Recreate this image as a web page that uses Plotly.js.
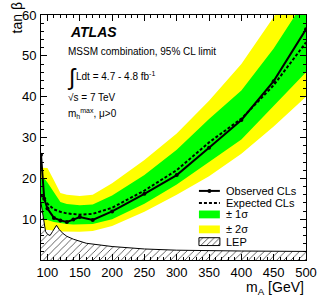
<!DOCTYPE html>
<html><head><meta charset="utf-8">
<script src="https://cdn.plot.ly/plotly-3.0.1.min.js"></script>
<style>html,body{margin:0;padding:0;background:#fff}#c{width:328px;height:301px}</style>
</head><body><div id="c"></div>
<script>
// data (m_A in GeV, tan beta)
const massObs = [90, 95, 100, 110, 120, 130, 140, 150, 170, 200, 250, 300, 350, 400, 450, 500];
const tbObserved = [25.8, 15, 12.6, 10.3, 9.7, 9.3, 9.9, 10.5, 9.8, 11.9, 16.2, 20.8, 27.5, 34.3, 43.8, 56.5];
const tbExpected = [16, 15, 13.8, 12.4, 11.8, 11.4, 11.2, 11.1, 11.3, 12.8, 17, 22, 28.8, 34.6, 42.8, 53.3];
const tbPlus1 = [20, 20, 19, 16.5, 14.2, 13.7, 13.5, 13.4, 13.6, 15.8, 20.8, 27, 34.5, 41.5, 51.8, 64];
const tbMinus1 = [10.2, 10, 9.8, 9.3, 9.0, 8.8, 8.7, 8.7, 8.8, 10, 13.8, 18.5, 24, 29.5, 37.7, 46];
const tbPlus2 = [22.6, 22.6, 22.5, 19.5, 16.4, 16, 15.8, 15.7, 16, 18.8, 24.5, 31, 39, 48, 59.5, 71];
const tbMinus2 = [7.5, 7.5, 7.4, 7.2, 7.0, 6.9, 6.9, 6.9, 7.1, 8.3, 11.8, 16, 20.5, 26, 32.7, 40];
const massLEP = [90, 93, 97, 100, 104, 108, 114, 118, 124, 130, 140, 160, 200, 250, 300, 400, 500];
const tbLEP = [14, 10.5, 7, 6.3, 6.0, 7, 8.5, 7.5, 6.5, 5.8, 5.1, 4.1, 3.3, 2.7, 2.4, 2.2, 2.1];
const xTicks = [100, 150, 200, 250, 300, 350, 400, 450, 500];
const yTicks = [10, 20, 30, 40, 50, 60];
const legendLabels = ["Observed CLs", "Expected CLs", "± 1σ", "± 2σ", "LEP"];

const band = (lo, hi, color) => ({
  x: massObs.concat(massObs.slice().reverse()),
  y: hi.concat(lo.slice().reverse()),
  type: 'scatter', mode: 'lines', fill: 'toself', fillcolor: color,
  line: {width: 0}, hoverinfo: 'skip', showlegend: false
});

const traces = [
  band(tbMinus2, tbPlus2, '#ffff00'),
  band(tbMinus1, tbPlus1, '#00ff00'),
  {x: massLEP, y: tbLEP, type: 'scatter', mode: 'lines', fill: 'tozeroy',
   fillcolor: 'rgba(255,255,255,1)',
   fillpattern: {shape: '/', size: 5, solidity: 0.15, fgcolor: '#333', bgcolor: '#fff'},
   line: {color: '#000', width: 1}, showlegend: false},
  {x: massObs, y: tbExpected, type: 'scatter', mode: 'lines',
   line: {color: '#000', width: 2, dash: '3px,2px'}, showlegend: false},
  {x: massObs, y: tbObserved, type: 'scatter', mode: 'lines+markers',
   line: {color: '#000', width: 2}, marker: {color: '#000', size: 4}, showlegend: false}
];

// legend samples on an overlay axis (x2/y2 : 0..1 range = plot area fractions)
const LX0 = 0.596, LX1 = 0.675;
const rowY = [0.282, 0.233, 0.186, 0.125, 0.075];
const boxH = 0.032;
const box = (i) => ({x: [LX0, LX1, LX1, LX0, LX0],
  y: [rowY[i] - boxH/2, rowY[i] - boxH/2, rowY[i] + boxH/2, rowY[i] + boxH/2, rowY[i] - boxH/2]});
traces.push(
  {x: [LX0, LX1], y: [rowY[0], rowY[0]], xaxis: 'x2', yaxis: 'y2', mode: 'lines', type: 'scatter',
   line: {color: '#000', width: 2}, showlegend: false, hoverinfo: 'skip'},
  {x: [(LX0 + LX1) / 2], y: [rowY[0]], xaxis: 'x2', yaxis: 'y2', mode: 'markers', type: 'scatter',
   marker: {color: '#000', size: 4}, showlegend: false, hoverinfo: 'skip'},
  {x: [LX0, LX1], y: [rowY[1], rowY[1]], xaxis: 'x2', yaxis: 'y2', mode: 'lines', type: 'scatter',
   line: {color: '#000', width: 2, dash: '3px,2px'}, showlegend: false, hoverinfo: 'skip'},
  Object.assign(box(2), {xaxis: 'x2', yaxis: 'y2', mode: 'lines', type: 'scatter', fill: 'toself',
   fillcolor: '#00ff00', line: {width: 0}, showlegend: false, hoverinfo: 'skip'}),
  Object.assign(box(3), {xaxis: 'x2', yaxis: 'y2', mode: 'lines', type: 'scatter', fill: 'toself',
   fillcolor: '#ffff00', line: {width: 0}, showlegend: false, hoverinfo: 'skip'}),
  Object.assign(box(4), {xaxis: 'x2', yaxis: 'y2', mode: 'lines', type: 'scatter', fill: 'toself',
   fillcolor: '#fff', fillpattern: {shape: '/', size: 4, solidity: 0.2, fgcolor: '#333', bgcolor: '#fff'},
   line: {width: 1, color: '#000'}, showlegend: false, hoverinfo: 'skip'})
);

const font = 'Liberation Sans, Arial, Helvetica, sans-serif';
const ann = [
  {text: '<b><i>ATLAS</i></b>', x: 0.1, y: 0.931, size: 14},
  {text: 'MSSM combination, 95% CL limit', x: 0.094, y: 0.849, size: 10},
  {text: '∫', x: 0.092, y: 0.748, size: 23},
  {text: 'Ldt = 4.7 - 4.8 fb<sup>-1</sup>', x: 0.125, y: 0.751, size: 10},
  {text: '√s = 7 TeV', x: 0.094, y: 0.665, size: 10},
  {text: 'm<sub>h</sub><sup>max</sup>, μ>0', x: 0.094, y: 0.596, size: 10}
].map(a => ({text: a.text, x: a.x, y: a.y, xref: 'paper', yref: 'paper', xanchor: 'left', yanchor: 'middle',
  showarrow: false, font: {family: font, size: a.size, color: '#000'}}));
legendLabels.forEach((t, i) => ann.push({text: t, x: 0.69, y: rowY[i], xref: 'paper', yref: 'paper',
  xanchor: 'left', yanchor: 'middle', showarrow: false, font: {family: font, size: 11, color: '#000'}}));
ann.push({text: 'tan β', textangle: -90, x: -0.092, y: 1.06, xref: 'paper', yref: 'paper',
  xanchor: 'center', yanchor: 'top', showarrow: false, font: {family: font, size: 14, color: '#000'}});
ann.push({text: 'm<sub>A</sub> [GeV]', x: 1.0, y: -0.115, xref: 'paper', yref: 'paper',
  xanchor: 'right', yanchor: 'middle', showarrow: false, font: {family: font, size: 14, color: '#000'}});

const axisCommon = {
  showgrid: false, zeroline: false, showline: true, linecolor: '#000', linewidth: 1,
  mirror: 'allticks', ticks: 'inside', ticklen: 6, tickwidth: 1, tickcolor: '#000',
  tickfont: {family: font, size: 13, color: '#000'}
};
const layout = {
  width: 328, height: 301, margin: {l: 41, r: 22, t: 15, b: 41},
  paper_bgcolor: '#fff', plot_bgcolor: '#fff', showlegend: false,
  xaxis: Object.assign({}, axisCommon, {range: [90, 500], tickvals: xTicks, ticktext: xTicks.map(String),
    minor: {dtick: 10, tick0: 0, ticks: 'inside', ticklen: 3, tickcolor: '#000'}}),
  yaxis: Object.assign({}, axisCommon, {range: [0, 60], tickvals: yTicks, ticktext: yTicks.map(String),
    ticklabelstandoff: 1,
    minor: {dtick: 2, tick0: 0, ticks: 'inside', ticklen: 3, tickcolor: '#000'}}),
  xaxis2: {domain: [0, 1], range: [0, 1], overlaying: 'x', anchor: 'y2', visible: false, fixedrange: true},
  yaxis2: {domain: [0, 1], range: [0, 1], overlaying: 'y', anchor: 'x2', visible: false, fixedrange: true},
  annotations: ann
};
Plotly.newPlot('c', traces, layout, {staticPlot: true, displayModeBar: false});
</script></body></html>
